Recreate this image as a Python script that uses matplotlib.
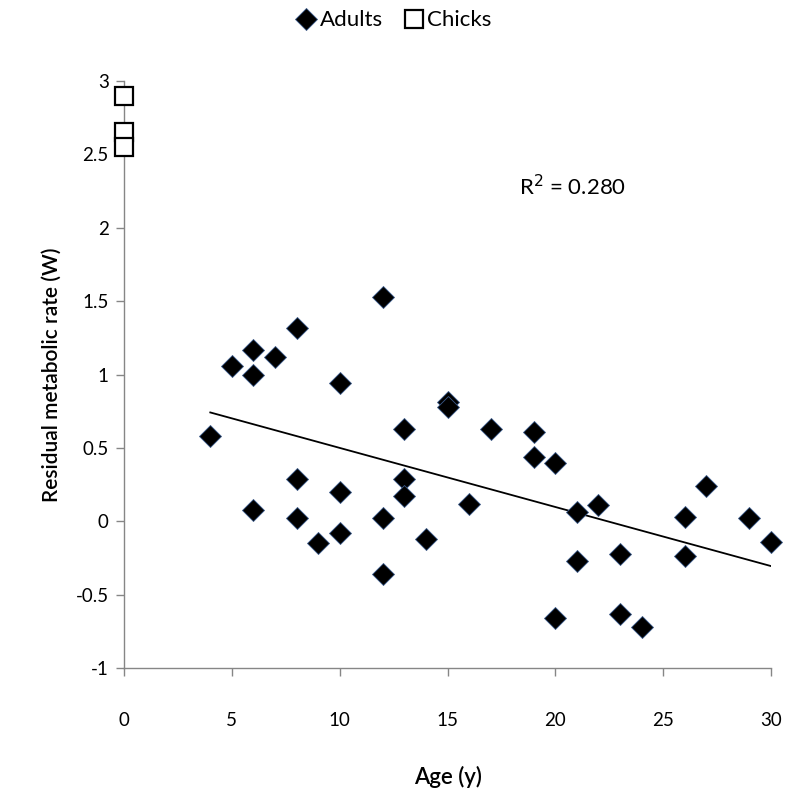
import numpy as np
import matplotlib.pyplot as plt

plt.rcParams['font.family'] = ['Lato', 'DejaVu Sans']

# Adults: age (y) and residual metabolic rate (W)
adult_age = [4, 5, 6, 6, 7, 8, 10, 12, 6, 8, 8, 9, 10, 10, 12, 12, 13, 13, 13, 14,
             15, 15, 16, 17, 19, 19, 20, 20, 21, 21, 22, 23, 23, 24, 26, 26, 27, 29, 30]
adult_rmr = [0.58, 1.06, 1.17, 1.00, 1.12, 1.32, 0.94, 1.53, 0.08, 0.29, 0.02, -0.15,
             0.20, -0.08, 0.02, -0.36, 0.63, 0.29, 0.17, -0.12, 0.81, 0.78, 0.12, 0.63,
             0.61, 0.44, 0.40, -0.66, 0.06, -0.27, 0.11, -0.22, -0.63, -0.72, 0.03,
             -0.24, 0.24, 0.02, -0.14]

# Chicks
chick_age = [0, 0, 0]
chick_rmr = [2.90, 2.65, 2.55]

r2_text = 'R$^2$ = 0.280'

fig = plt.figure(figsize=(7.87, 7.96), dpi=100)
ax = fig.add_axes([0.1576, 0.1608, 0.8221, 0.7374])

# trend line through the adults
a = np.array(adult_age)
b = np.array(adult_rmr)
k, c = np.polyfit(a, b, 1)
xl = np.array([a.min(), a.max()])
ax.plot(xl, k * xl + c, color='black', lw=1.3, zorder=2)

ax.plot(adult_age, adult_rmr, linestyle='none', marker='D', ms=11.5,
        mfc='black', mec='#3a5a8a', mew=0.6, zorder=3, label='Adults', clip_on=False)
ax.plot(chick_age, chick_rmr, linestyle='none', marker='s', ms=13,
        mfc='white', mec='black', mew=1.6, zorder=3, label='Chicks', clip_on=False)

ax.set_xlim(0, 30)
ax.set_ylim(-1, 3)
ax.set_xticks(range(0, 31, 5))
ax.set_yticks([-1, -0.5, 0, 0.5, 1, 1.5, 2, 2.5, 3])
ax.set_yticklabels(['-1', '-0.5', '0', '0.5', '1', '1.5', '2', '2.5', '3'])

for s in ['top', 'right']:
    ax.spines[s].set_visible(False)
for s in ['left', 'bottom']:
    ax.spines[s].set_color('#868686')
    ax.spines[s].set_linewidth(1.0)
ax.tick_params(axis='both', colors='#868686', labelcolor='black', labelsize=13.5,
               length=6, width=1.0)
ax.tick_params(axis='x', pad=26)
ax.tick_params(axis='y', pad=5)

ax.set_xlabel('Age (y)', fontsize=16, fontweight='semibold', labelpad=26)
ax.set_ylabel('Residual metabolic rate (W)', fontsize=15, fontweight='semibold', labelpad=10)

ax.text(20.8, 2.28, r2_text, fontsize=16, ha='center', va='center')

fig.legend(loc='upper center', bbox_to_anchor=(0.5, 1.012), ncol=2, frameon=False,
           fontsize=16, handletextpad=0.1, columnspacing=0.9, markerscale=0.95,
           handlelength=1.0)

fig.savefig('out.png', dpi=100)
